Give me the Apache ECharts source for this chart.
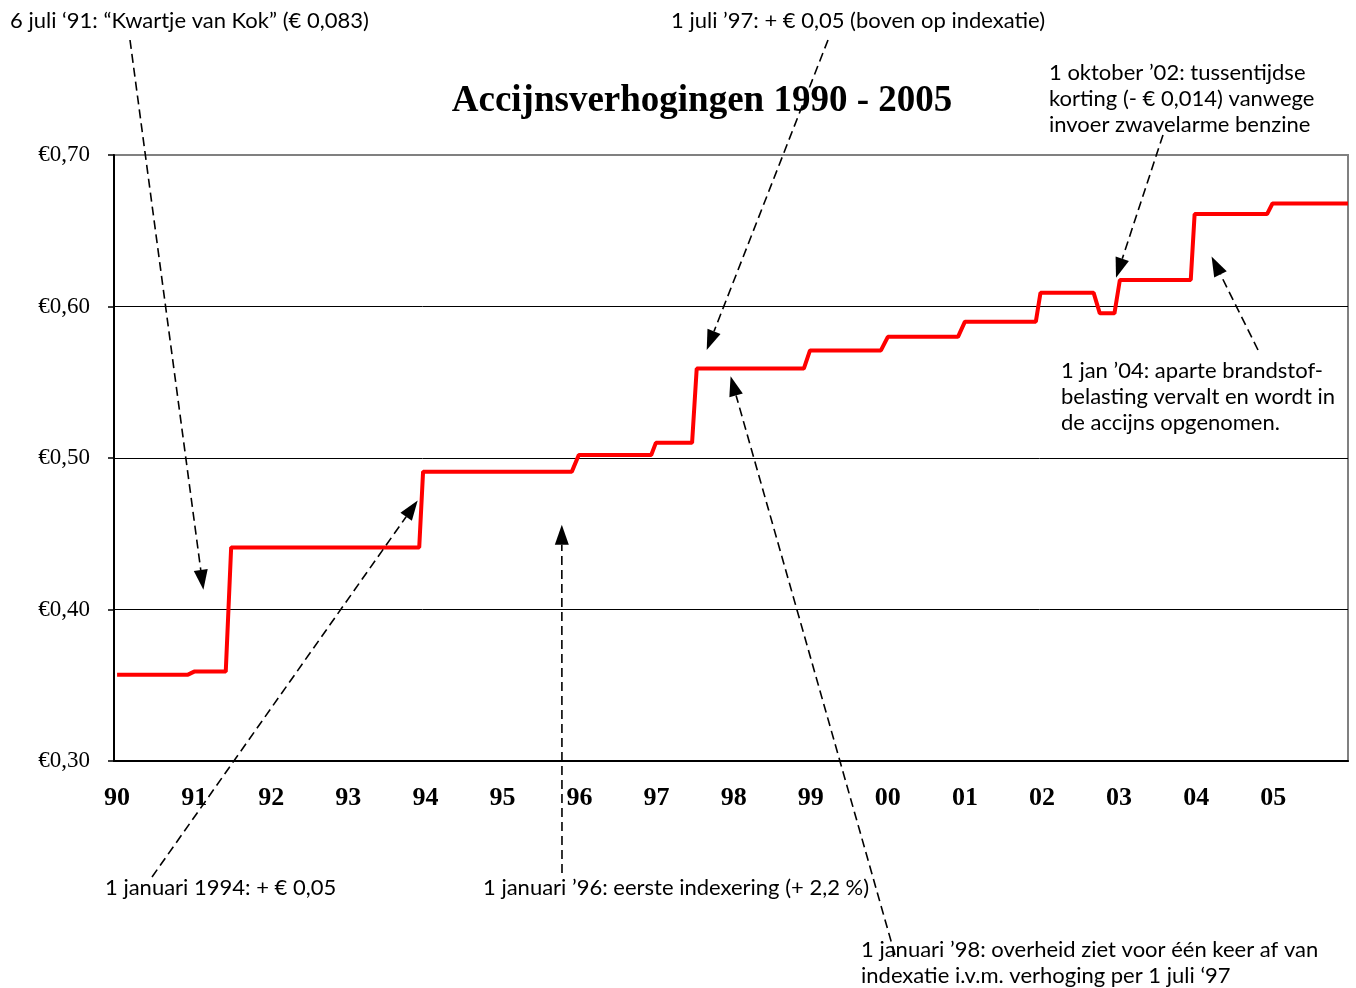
<!DOCTYPE html>
<html><head><meta charset="utf-8">
<script src="https://cdn.jsdelivr.net/npm/echarts@6/dist/echarts.min.js"></script>
<style>html,body{margin:0;padding:0;background:#fff}#c{width:1356px;height:988px}</style>
</head><body><div id="c"></div>
<script>
// ---- data ----
const yearTicks = [1990,1991,1992,1993,1994,1995,1996,1997,1998,1999,2000,2001,2002,2003,2004,2005];
const levelStart = [1990.00,1991.00,1991.48,1993.97,1995.99,1996.99,1997.52,1998.99,2000.00,2001.00,2001.98,2002.75,2003.01,2003.98,2004.99];
const levelEnd   = [1990.92,1991.41,1993.92,1995.90,1996.93,1997.46,1998.91,1999.91,2000.91,2001.92,2002.67,2002.94,2003.93,2004.92,2005.97];
const levelValue = [0.357,0.359,0.441,0.491,0.502,0.510,0.559,0.571,0.580,0.590,0.609,0.5955,0.6175,0.661,0.668];
const yTicks = [0.3,0.4,0.5,0.6,0.7];
const titleText = 'Accijnsverhogingen 1990 - 2005';

// annotations: text lines, arrow tip in data coordinates
const annoLines = [
  ['6 juli \u201891: \u201cKwartje van Kok\u201d (\u20ac 0,083)'],
  ['1 juli \u201997: + \u20ac 0,05 (boven op indexatie)'],
  ['1 oktober \u201902: tussentijdse','korting (- \u20ac 0,014) vanwege','invoer zwavelarme benzine'],
  ['1 jan \u201904: aparte brandstof-','belasting vervalt en wordt in','de accijns opgenomen.'],
  ['1 januari 1994: + \u20ac 0,05'],
  ['1 januari \u201996: eerste indexering (+ 2,2 %)'],
  ['1 januari \u201998: overheid ziet voor \u00e9\u00e9n keer af van','indexatie i.v.m. verhoging per 1 juli \u201897']
];
const annoTipYear  = [1991.12, 1997.65, 2002.96, 2004.20, 1993.90, 1995.77, 1997.96];
const annoTipValue = [0.413,   0.5713,  0.619,   0.633,   0.472,   0.456,   0.554];
// layout of annotation text (px) and arrow tails (px)
const annoTextPos = [[10,21],[671,21],[1049,73],[1061,371],[105,888],[483,888],[861,950]];
const annoLineH = 26;
const annoTail = [[130,40],[828,40],[1163,135],[1258,350],[152,877],[562,873],[895,955]];

const seriesData = [];
levelStart.forEach((s,i)=>{ seriesData.push([s, levelValue[i]]); seriesData.push([levelEnd[i], levelValue[i]]); });

const chart = echarts.init(document.getElementById('c'), null, {renderer:'canvas'});
const option = {
  animation:false,
  backgroundColor:'#fff',
  title:{text:titleText, left:697, top:96, textAlign:'center', textVerticalAlign:'middle',
    textStyle:{fontFamily:'Liberation Serif', fontWeight:'bold', fontSize:37, color:'#000'}},
  grid:{left:114, right:8, top:155, bottom:227, show:true, borderColor:'#808080', borderWidth:2, backgroundColor:'transparent'},
  xAxis:{type:'value', min:1989.96, max:2005.97,
    axisLine:{show:true, onZero:false, lineStyle:{color:'#000', width:2}},
    axisTick:{show:false}, splitLine:{show:false},
    axisLabel:{customValues:yearTicks, margin:24, color:'#000', fontFamily:'Liberation Serif', fontWeight:'bold', fontSize:26,
      formatter:v=>String(Math.round(v)%100).padStart(2,'0')}},
  yAxis:{type:'value', min:0.3, max:0.7, interval:0.1,
    axisLine:{show:true, lineStyle:{color:'#000', width:2}},
    axisTick:{show:true, length:6, lineStyle:{color:'#000', width:1.5}},
    splitLine:{show:true, showMinLine:false, showMaxLine:false, lineStyle:{color:'#000', width:1}},
    axisLabel:{margin:24, color:'#000', fontFamily:'Liberation Serif', fontSize:23,
      formatter:v=>'\u20ac'+v.toFixed(2).replace('.',',')}},
  series:[{type:'line', data:seriesData, showSymbol:false, lineStyle:{color:'#ff0000', width:4}, itemStyle:{color:'#ff0000'}, z:5}]
};
chart.setOption(option);

const gfx = [];
annoLines.forEach((lines,i)=>{
  lines.forEach((t,j)=>{
    gfx.push({type:'text', x:annoTextPos[i][0], y:annoTextPos[i][1]+j*annoLineH, z:100,
      style:{text:t, fill:'#000', font:'22px Lato', textAlign:'left', textVerticalAlign:'middle'}});
  });
  const tip = chart.convertToPixel({gridIndex:0}, [annoTipYear[i], annoTipValue[i]]);
  const tail = annoTail[i];
  const dx = tip[0]-tail[0], dy = tip[1]-tail[1];
  const L = Math.sqrt(dx*dx+dy*dy), ux = dx/L, uy = dy/L;
  const headL = 20, headW = 7;
  const bx = tip[0]-ux*headL, by = tip[1]-uy*headL;
  gfx.push({type:'line', z:90, shape:{x1:tail[0], y1:tail[1], x2:bx, y2:by},
    style:{stroke:'#000', lineWidth:1.6, lineDash:[9,5]}});
  gfx.push({type:'polygon', z:90, shape:{points:[[tip[0],tip[1]],[bx-uy*headW, by+ux*headW],[bx+uy*headW, by-ux*headW]]},
    style:{fill:'#000'}});
});
chart.setOption({graphic:gfx});
</script></body></html>
